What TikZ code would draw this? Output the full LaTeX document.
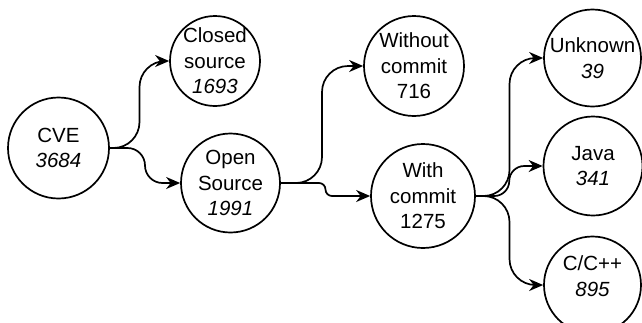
\documentclass[tikz,border=0pt]{standalone}
\usepackage{fontspec}
\setmainfont{Liberation Sans}
\usetikzlibrary{arrows.meta,calc}

\tikzset{
  bubble/.style={draw, circle, line width=1.7pt, inner sep=0pt},
  label text/.style={align=center, inner sep=0pt,
    font=\fontsize{20.5}{25.5}\selectfont},
  link/.style={draw, line width=1.7pt,
    -{Stealth[length=14pt,width=12pt,inset=4.5pt]}},
  % horizontal out, vertical at mid-x, horizontal in, with round bends
  elbow/.style={to path={
    let \p1=(\tikztostart), \p2=(\tikztotarget),
        \n1={(\x1+\x2)/2},
        \n2={min(26pt, abs(\y2-\y1)/2)},
        \n3={(\y2-\y1)/max(abs(\y2-\y1),0.01pt)}
    in -- ({\n1-\n2},\y1)
       .. controls ({\n1-0.448*\n2},\y1) and (\n1,{\y1+\n3*0.448*\n2})
       .. (\n1,{\y1+\n3*\n2})
       -- (\n1,{\y2-\n3*\n2})
       .. controls (\n1,{\y2-\n3*0.448*\n2}) and ({\n1+0.448*\n2},\y2)
       .. ({\n1+\n2},\y2)
       -- (\tikztotarget)}}
}

\begin{document}
\begin{tikzpicture}[x=1pt, y=-1pt]
  \useasboundingbox[fill=white] (0,0) rectangle (642,322);

  % circles
  \node[bubble, minimum size=101pt] (cve)     at (58.5,148)  {};
  \node[bubble, minimum size=90pt]  (closed)  at (215,61)    {};
  \node[bubble, minimum size=99pt]  (open)    at (230.5,183) {};
  \node[bubble, minimum size=100pt] (without) at (414,66)    {};
  \node[bubble, minimum size=104pt] (with)    at (423,196)   {};
  \node[bubble, minimum size=97pt]  (unknown) at (592.5,58)  {};
  \node[bubble, minimum size=99pt]  (java)    at (593,166)   {};
  \node[bubble, minimum size=97pt]  (cpp)     at (592.5,285) {};

  % labels
  \node[label text] (cve-t)     at (cve)             {CVE\\\textit{3684}};
  \node[label text] (closed-t)  at (closed)          {Closed\\source\\\textit{1693}};
  \node[label text] (open-t)    at (open)            {Open\\Source\\\textit{1991}};
  \node[label text] (without-t) at (without)         {Without\\commit\\716};
  \node[label text] (with-t)    at (with)            {With\\commit\\1275};
  \node[label text] (unknown-t) at (unknown)         {Unknown\\\textit{39}};
  \node[label text] (java-t)    at (java)            {Java\\\textit{341}};
  \node[label text] (cpp-t)     at ([yshift=9pt]cpp) {C/C++\\\textit{895}};

  % connectors
  \draw[link] (cve.east)  to[elbow] (closed.west);
  \draw[link] (cve.east)  to[elbow] (open.west);
  \draw[link] (open.east) to[elbow] (without.west);
  \draw[link] (open.east) to[elbow] (with.west);
  \draw[link] (with.east) to[elbow] (unknown.west);
  \draw[link] (with.east) to[elbow] (java.west);
  \draw[link] (with.east) to[elbow] (cpp.west);
\end{tikzpicture}
\end{document}
